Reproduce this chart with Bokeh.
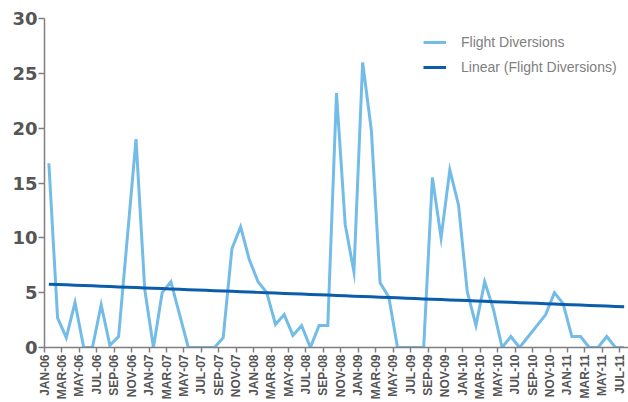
import math
import numpy as np
import pandas as pd
from bokeh.plotting import figure
from bokeh.models import (Range1d, FixedTicker, Legend, LegendItem, ColumnDataSource)
from bokeh.embed import file_html
from bokeh.resources import INLINE

# ---- data ----
months = pd.date_range("2006-01-01", periods=67, freq="MS")
month_labels = [d.strftime("%b-%y").upper() for d in months]
diversions = [16.8, 2.7, 0.9, 4.1, 0, 0, 3.9, 0.2, 1.0, 10,
              19, 5.3, 0, 5, 6, 3, 0, 0, 0, 0,
              0.9, 9, 11, 8, 6, 5, 2.1, 3, 1.1, 2,
              0, 2, 2, 23.2, 11.2, 6.9, 26, 19.8, 5.9, 4.6,
              0, 0, 0, 0, 15.5, 10, 16.2, 13, 5.1, 2,
              6, 3.5, 0, 1, 0, 1, 2, 3, 5, 4,
              1, 1, 0, 0, 1, 0, 0]
y_ticks = [0, 5, 10, 15, 20, 25, 30]
series_names = ["Flight Diversions", "Linear (Flight Diversions)"]

# ---- derived ----
idx = np.arange(len(diversions))
xpos = idx + 0.5
slope, intercept = np.polyfit(idx, np.array(diversions, dtype=float), 1)
trend = slope * idx + intercept

tick_pos = [int(i) for i in idx[::2]]
tick_labels = {int(i): month_labels[i] for i in idx[::2]}

src = ColumnDataSource(dict(x=xpos, y=diversions, t=trend))

p = figure(width=628, height=402, output_backend="svg", toolbar_location=None,
           x_range=Range1d(0, 67), y_range=Range1d(0, 30),
           min_border_left=44, min_border_right=0, min_border_top=18,
           min_border_bottom=54)
p.outline_line_color = None
p.xgrid.grid_line_color = None
p.ygrid.grid_line_color = None
p.background_fill_color = "white"
p.border_fill_color = "white"

r1 = p.line("x", "y", source=src, line_color="#74BCE8", line_width=3,
            line_join="miter")
r2 = p.line("x", "t", source=src, line_color="#0A5DAA", line_width=3)

axis_col = "#7f7f7f"
# y axis
ya = p.yaxis[0]
ya.ticker = FixedTicker(ticks=y_ticks, minor_ticks=[])
ya.axis_line_color = axis_col
ya.axis_line_width = 1.5
ya.major_tick_line_color = axis_col
ya.major_tick_line_width = 1.5
ya.major_tick_out = 6
ya.major_tick_in = 0
ya.minor_tick_line_color = None
ya.major_label_standoff = 1
ya.major_label_text_font = "DejaVu Sans"
ya.major_label_text_font_style = "bold"
ya.major_label_text_font_size = "18px"
ya.major_label_text_color = "#555555"

# x axis
xa = p.xaxis[0]
xa.ticker = FixedTicker(ticks=tick_pos, minor_ticks=[])
xa.major_label_overrides = tick_labels
xa.major_label_orientation = math.pi / 2
xa.axis_line_color = axis_col
xa.axis_line_width = 1.5
xa.major_tick_line_color = axis_col
xa.major_tick_line_width = 1.5
xa.major_tick_out = 5
xa.major_tick_in = 0
xa.minor_tick_line_color = None
xa.major_label_standoff = 2
xa.major_label_text_font = "Liberation Sans"
xa.major_label_text_font_style = "bold"
xa.major_label_text_font_size = "12px"
xa.major_label_text_color = "#555555"

legend = Legend(items=[LegendItem(label=series_names[0], renderers=[r1]),
                       LegendItem(label=series_names[1], renderers=[r2])],
                location=(379, 270))
legend.border_line_color = None
legend.background_fill_alpha = 0
legend.padding = 0
legend.spacing = 5
legend.glyph_width = 23
legend.glyph_height = 20
legend.label_height = 20
legend.label_standoff = 15
legend.label_text_font = "Liberation Sans"
legend.label_text_font_size = "14px"
legend.label_text_color = "#808080"
p.add_layout(legend)

open("out.html", "w").write(file_html(p, INLINE))
